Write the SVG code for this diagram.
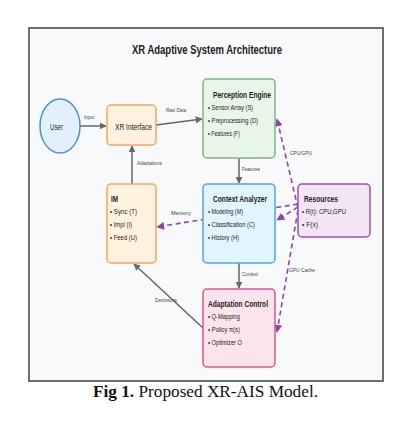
<svg xmlns="http://www.w3.org/2000/svg" width="405" height="428" viewBox="0 0 405 428">
<defs>
<marker id="ag" viewBox="0 0 10 10" refX="9" refY="5" markerWidth="7" markerHeight="7" markerUnits="userSpaceOnUse" orient="auto"><path d="M0,0 L10,5 L0,10 z" fill="#666"/></marker>
<marker id="ap" viewBox="0 0 10 10" refX="9" refY="5" markerWidth="8" markerHeight="8" markerUnits="userSpaceOnUse" orient="auto"><path d="M0,0 L10,5 L0,10 z" fill="#8e44ad"/></marker>
</defs>
<style>
text{font-family:"Liberation Sans",Arial,sans-serif;fill:#222}
.t{font-size:9.5px;font-weight:bold}
.i{font-size:7.5px}
.l{font-size:6px;fill:#444}
.g{stroke:#666;stroke-width:1.5;fill:none;marker-end:url(#ag)}
.p{stroke:#8e44ad;stroke-width:1.6;fill:none;stroke-dasharray:5,3.5;marker-end:url(#ap)}
</style>
<rect width="405" height="428" fill="#fff"/>
<rect x="29" y="28" width="354" height="353" fill="#f8f9fa" stroke="#6e6e6e" stroke-width="2"/>
<text x="207" y="54" text-anchor="middle" font-size="12" font-weight="bold" textLength="150" lengthAdjust="spacingAndGlyphs">XR Adaptive System Architecture</text>

<g id="connectors">
<line class="g" x1="80" y1="126" x2="106" y2="126"/>
<text class="l" x="84" y="119" textLength="10" lengthAdjust="spacingAndGlyphs">Input</text>
<line class="g" x1="156" y1="125" x2="202" y2="119"/>
<text class="l" x="166" y="112" textLength="20" lengthAdjust="spacingAndGlyphs">Raw Data</text>
<line class="g" x1="239" y1="158" x2="239" y2="183"/>
<text class="l" x="242" y="171" textLength="18" lengthAdjust="spacingAndGlyphs">Features</text>
<line class="g" x1="132" y1="184" x2="132" y2="146"/>
<text class="l" x="137" y="165" textLength="25" lengthAdjust="spacingAndGlyphs">Adaptations</text>
<line class="g" x1="239" y1="263" x2="239" y2="288"/>
<text class="l" x="242" y="276" textLength="16" lengthAdjust="spacingAndGlyphs">Context</text>
<line class="g" x1="203" y1="328" x2="134" y2="264"/>
<text class="l" x="155" y="302" textLength="22" lengthAdjust="spacingAndGlyphs">Decisions</text>
<line class="p" x1="298" y1="208" x2="277" y2="119"/>
<text class="l" x="290" y="155" textLength="22" lengthAdjust="spacingAndGlyphs">CPU/GPU</text>
<line class="p" x1="298" y1="207" x2="277" y2="220"/>
<line class="p" x1="298" y1="204" x2="157" y2="227"/>
<text class="l" x="171" y="215" textLength="20" lengthAdjust="spacingAndGlyphs">Memory</text>
<line class="p" x1="298" y1="210" x2="277" y2="332"/>
<text class="l" x="289" y="272" textLength="26" lengthAdjust="spacingAndGlyphs">GPU Cache</text>
</g>

<g id="user">
<ellipse cx="60" cy="126" rx="20" ry="27" fill="#e3f0fb" stroke="#4a90d9" stroke-width="1.5"/>
<text x="56.5" y="129.5" text-anchor="middle" font-size="9.5" textLength="13" lengthAdjust="spacingAndGlyphs">User</text>
</g>

<g id="xr-interface">
<rect x="107" y="105" width="49" height="40" rx="4" fill="#fff3e0" stroke="#f5a55a" stroke-width="1.5"/>
<text x="133.5" y="129.5" text-anchor="middle" font-size="9.5" textLength="37" lengthAdjust="spacingAndGlyphs">XR Interface</text>
</g>

<g id="perception-engine">
<rect x="203" y="79" width="72" height="79" rx="4" fill="#e8f5e9" stroke="#7cb87e" stroke-width="1.5"/>
<text class="t" x="213" y="97.5" textLength="58" lengthAdjust="spacingAndGlyphs">Perception Engine</text>
<text class="i" x="208" y="109.5" textLength="45" lengthAdjust="spacingAndGlyphs">• Sensor Array (S)</text>
<text class="i" x="208" y="122.5" textLength="50" lengthAdjust="spacingAndGlyphs">• Preprocessing (D)</text>
<text class="i" x="208" y="135.5" textLength="32" lengthAdjust="spacingAndGlyphs">• Features (F)</text>
</g>

<g id="im">
<rect x="107" y="184" width="49" height="79" rx="4" fill="#fff3e0" stroke="#f5a55a" stroke-width="1.5"/>
<text class="t" x="111" y="201.5" textLength="7" lengthAdjust="spacingAndGlyphs">IM</text>
<text class="i" x="110" y="213.5" textLength="27" lengthAdjust="spacingAndGlyphs">• Sync (T)</text>
<text class="i" x="110" y="226.5" textLength="22" lengthAdjust="spacingAndGlyphs">• Impl (I)</text>
<text class="i" x="110" y="239.5" textLength="27" lengthAdjust="spacingAndGlyphs">• Feed (U)</text>
</g>

<g id="context-analyzer">
<rect x="203" y="184" width="72" height="79" rx="4" fill="#e1f5fe" stroke="#4ea8de" stroke-width="1.5"/>
<text class="t" x="213" y="201.5" textLength="54" lengthAdjust="spacingAndGlyphs">Context Analyzer</text>
<text class="i" x="208" y="213.5" textLength="35" lengthAdjust="spacingAndGlyphs">• Modeling (M)</text>
<text class="i" x="208" y="226.5" textLength="47" lengthAdjust="spacingAndGlyphs">• Classification (C)</text>
<text class="i" x="208" y="239.5" textLength="31" lengthAdjust="spacingAndGlyphs">• History (H)</text>
</g>

<g id="resources">
<rect x="298" y="184" width="72" height="53" rx="4" fill="#f3e5f5" stroke="#9c4fb0" stroke-width="1.5"/>
<text class="t" x="304" y="201.5" textLength="34" lengthAdjust="spacingAndGlyphs">Resources</text>
<text class="i" x="302" y="213.5" textLength="44" lengthAdjust="spacingAndGlyphs">• R(t): CPU,GPU</text>
<text class="i" x="302" y="226.5" textLength="16" lengthAdjust="spacingAndGlyphs">• F(x)</text>
</g>

<g id="adaptation-control">
<rect x="203" y="289" width="72" height="78" rx="4" fill="#fce4ec" stroke="#d6568a" stroke-width="1.5"/>
<text class="t" x="208" y="306.5" textLength="60" lengthAdjust="spacingAndGlyphs">Adaptation Control</text>
<text class="i" x="208" y="318.5" textLength="32" lengthAdjust="spacingAndGlyphs">• Q-Mapping</text>
<text class="i" x="208" y="331.5" textLength="32" lengthAdjust="spacingAndGlyphs">• Policy π(s)</text>
<text class="i" x="208" y="344.5" textLength="34" lengthAdjust="spacingAndGlyphs">• Optimizer O</text>
</g>

<text x="205.5" y="397" text-anchor="middle" font-family="Liberation Serif,serif" font-size="16" textLength="225" lengthAdjust="spacingAndGlyphs" style="font-family:'Liberation Serif',serif;fill:#111"><tspan font-weight="bold">Fig 1.</tspan> Proposed XR-AIS Model.</text>
</svg>
